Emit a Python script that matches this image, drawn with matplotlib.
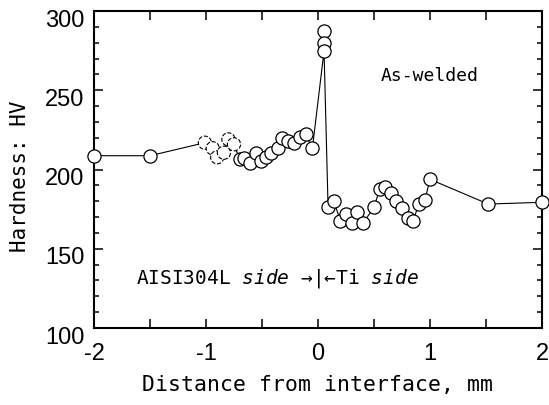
import numpy as np
import matplotlib
matplotlib.use("Agg")
import matplotlib.pyplot as plt
import matplotlib.transforms as mtransforms
from matplotlib.ticker import MultipleLocator, FuncFormatter

# hardness profile, as-welded
dist_solid = [-2.0, -1.5,
              -0.70, -0.66, -0.61, -0.55, -0.51, -0.46, -0.42, -0.36, -0.32,
              -0.27, -0.21, -0.16, -0.11, -0.05,
              0.054, 0.054, 0.054,
              0.09, 0.14, 0.20, 0.25, 0.30, 0.35, 0.40, 0.50, 0.55, 0.60,
              0.65, 0.70, 0.75, 0.80, 0.85, 0.90, 0.955, 1.0, 1.52, 2.0]
hv_solid = [208.7, 208.7,
            206.4, 207.0, 203.9, 210.6, 205.6, 207.7, 210.2, 213.4, 220.1,
            218.2, 216.5, 220.7, 222.2, 213.4,
            287.4, 279.8, 274.8,
            176.1, 180.3, 167.7, 171.9, 166.0, 173.4, 166.0, 176.1, 187.5, 188.7,
            185.0, 180.3, 175.5, 169.2, 167.7, 178.2, 180.8, 193.8, 178.2, 179.3]

# faint (dashed) indents near -1 mm
dist_dashed = [-1.01, -0.94, -0.90, -0.84, -0.80, -0.75]
hv_dashed = [216.9, 213.4, 207.7, 210.6, 219.0, 215.9]

line_x = [-2.0, -1.5, -1.01, -0.94, -0.90, -0.84, -0.80, -0.75,
          -0.70, -0.66, -0.61, -0.55, -0.51, -0.46, -0.42, -0.36, -0.32,
          -0.27, -0.21, -0.16, -0.11, -0.05, 0.054,
          0.09, 0.14, 0.20, 0.25, 0.30, 0.35, 0.40, 0.50, 0.55, 0.60,
          0.65, 0.70, 0.75, 0.80, 0.85, 0.90, 0.955, 1.0, 1.52, 2.0]
line_y = [208.7, 208.7, 216.9, 213.4, 207.7, 210.6, 219.0, 215.9,
          206.4, 207.0, 203.9, 210.6, 205.6, 207.7, 210.2, 213.4, 220.1,
          218.2, 216.5, 220.7, 222.2, 213.4, 274.8,
          176.1, 180.3, 167.7, 171.9, 166.0, 173.4, 166.0, 176.1, 187.5, 188.7,
          185.0, 180.3, 175.5, 169.2, 167.7, 178.2, 180.8, 193.8, 178.2, 179.3]

mono = "DejaVu Sans Mono"
narrow = ["Liberation Sans Narrow", "Liberation Sans", "DejaVu Sans"]
plt.rcParams["mathtext.fontset"] = "custom"
plt.rcParams["mathtext.it"] = "DejaVu Sans Mono:italic"
plt.rcParams["mathtext.rm"] = "DejaVu Sans Mono"

fig = plt.figure(figsize=(5.49, 4.05), dpi=100)
ax = fig.add_axes([94 / 549, 1 - 328 / 405, 448 / 549, 317 / 405])

ax.plot(line_x, line_y, color="black", lw=0.8, zorder=2, clip_on=False)
ax.scatter(dist_dashed, hv_dashed, s=90, facecolor="white", edgecolor="black",
           linewidths=0.8, linestyle="--", zorder=3, clip_on=False)
ax.scatter(dist_solid, hv_solid, s=90, facecolor="white", edgecolor="black",
           linewidths=0.9, zorder=4, clip_on=False)

ax.set_xlim(-2, 2)
ax.set_ylim(100, 300)
ax.xaxis.set_major_locator(MultipleLocator(0.5))
ax.xaxis.set_major_formatter(FuncFormatter(
    lambda v, p: "%d" % round(v) if abs(v - round(v)) < 1e-6 else ""))
ax.yaxis.set_major_locator(MultipleLocator(50))
ax.yaxis.set_minor_locator(MultipleLocator(10))

for s in ax.spines.values():
    s.set_linewidth(1.5)
ax.tick_params(which="both", direction="in", top=True, right=True, width=1.1)
ax.tick_params(axis="x", which="major", length=6.5, pad=11)
ax.tick_params(axis="y", which="major", length=6.5, pad=7)
ax.tick_params(axis="y", which="minor", length=3.5)
for lab in ax.get_xticklabels() + ax.get_yticklabels():
    lab.set_family(narrow)
    lab.set_fontsize(17)

# y tick labels sit a little below their ticks in the original
off = mtransforms.ScaledTranslation(0, -7 / 100, fig.dpi_scale_trans)
for t in ax.yaxis.get_major_ticks():
    t.label1.set_transform(t.label1.get_transform() + off)

ax.set_xlabel("Distance from interface, mm", family=mono, fontsize=15.5)
ax.xaxis.set_label_coords(0.5, -0.147)
ax.set_ylabel("Hardness: HV", family=mono, fontsize=15)
ax.yaxis.set_label_coords(-0.143, 0.48)

ax.text(1.0, 259, "As-welded", family=mono, fontsize=13,
        ha="center", va="center")
ax.text(-0.36, 131.5, r"AISI304L $side$ →|←Ti $side$", family=mono,
        fontsize=14, ha="center", va="center")

fig.savefig("out.png", dpi=100)
